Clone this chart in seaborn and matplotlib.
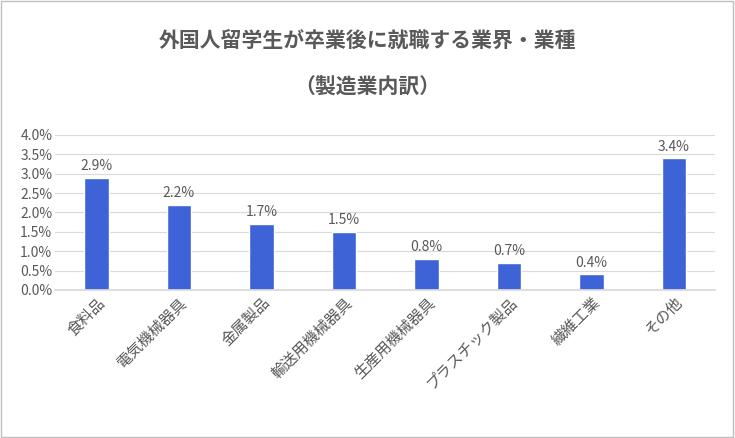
import matplotlib
matplotlib.use("Agg")
import matplotlib.pyplot as plt
import pandas as pd
import seaborn as sns
from matplotlib.ticker import PercentFormatter
from matplotlib.patches import Rectangle

CATEGORIES = ["食料品", "電気機械器具", "金属製品", "輸送用機械器具", "生産用機械器具",
              "プラスチック製品", "繊維工業", "その他"]
VALUES = [2.9, 2.2, 1.7, 1.5, 0.8, 0.7, 0.4, 3.4]
TITLE = "外国人留学生が卒業後に就職する業界・業種"
SUBTITLE = "（製造業内訳）"

sns.set_theme(style="white")
plt.rcParams["font.family"] = ["Noto Sans CJK JP", "DejaVu Sans"]

GRAY = "#595959"
BAR = "#3D63D6"

df = pd.DataFrame({"cat": CATEGORIES, "val": VALUES})

fig = plt.figure(figsize=(7.35, 4.38), dpi=100)
ax = fig.add_axes([0.075, 0.338, 0.898, 0.354])
sns.barplot(data=df, x="cat", y="val", color=BAR, width=0.3, saturation=1, ax=ax)

ax.set_ylim(0, 4.0)
ax.set_yticks([i * 0.5 for i in range(9)])
ax.yaxis.set_major_formatter(PercentFormatter(decimals=1))
ax.grid(axis="y", color="#d9d9d9", linewidth=0.8)
ax.set_axisbelow(True)
for s in ["top", "right", "left"]:
    ax.spines[s].set_visible(False)
ax.spines["bottom"].set_color("#d9d9d9")
ax.set_xlabel("")
ax.set_ylabel("")
ax.tick_params(axis="y", colors=GRAY, labelsize=10, length=0, pad=2)
ax.tick_params(axis="x", colors=GRAY, labelsize=11, length=0, pad=3)
plt.setp(ax.get_xticklabels(), rotation=45, ha="right", rotation_mode="anchor")

for p, v in zip(ax.patches, VALUES):
    ax.text(p.get_x() + p.get_width() / 2, v + 0.12, f"{v:.1f}%",
            ha="center", va="bottom", color=GRAY, fontsize=10)

fig.text(0.5, 1 - 40 / 438, TITLE, ha="center", va="center", fontsize=15,
         fontweight="bold", color=GRAY)
fig.text(0.5, 1 - 87 / 438, SUBTITLE, ha="center", va="center", fontsize=15,
         fontweight="bold", color=GRAY)

fig.patches.append(Rectangle((0.002, 0.003), 0.995, 0.994, transform=fig.transFigure,
                             fill=False, edgecolor="#bfbfbf", linewidth=1))

fig.savefig("out.png", dpi=100)
